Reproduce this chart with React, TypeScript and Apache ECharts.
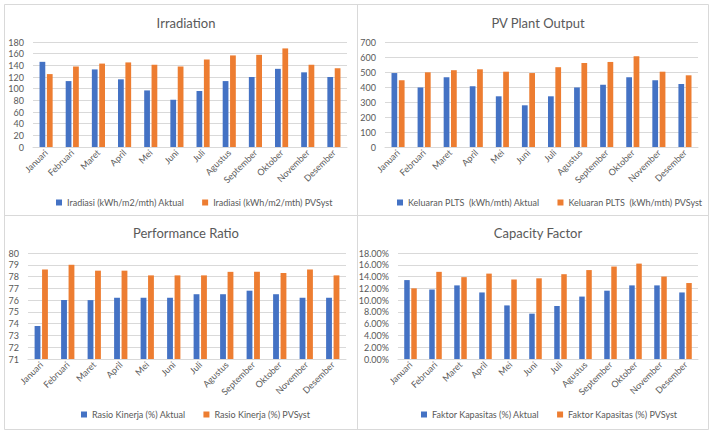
import React, { useEffect, useRef } from "react";
import * as echarts from "echarts";

const months = ["Januari", "Februari", "Maret", "April", "Mei", "Juni", "Juli", "Agustus", "September", "Oktober", "November", "Desember"];

const irrAktual = [146, 113, 133, 116, 97, 81, 96, 113, 120, 134, 128, 120];
const irrPvsyst = [125, 138, 143, 145, 141, 138, 150, 157, 158, 169, 141, 135];

const outAktual = [493, 397, 465, 405, 338, 278, 338, 397, 415, 465, 445, 420];
const outPvsyst = [445, 498, 512, 518, 502, 493, 532, 560, 567, 605, 502, 478];

const prAktual = [73.8, 76.0, 76.0, 76.2, 76.2, 76.2, 76.5, 76.5, 76.8, 76.5, 76.2, 76.2];
const prPvsyst = [78.6, 79.0, 78.5, 78.5, 78.1, 78.1, 78.1, 78.4, 78.4, 78.3, 78.6, 78.1];

const cfAktual = [13.4, 11.8, 12.5, 11.3, 9.1, 7.7, 9.0, 10.6, 11.6, 12.5, 12.5, 11.3];
const cfPvsyst = [12.0, 14.8, 13.9, 14.5, 13.5, 13.7, 14.4, 15.1, 15.7, 16.2, 14.0, 12.9];

const titles = ["Irradiation", "PV Plant Output", "Performance Ratio", "Capacity Factor"];
const seriesNames = [
  ["Iradiasi (kWh/m2/mth) Aktual", "Iradiasi (kWh/m2/mth) PVSyst"],
  ["Keluaran PLTS  (kWh/mth) Aktual", "Keluaran PLTS  (kWh/mth) PVSyst"],
  ["Rasio Kinerja (%) Aktual", "Rasio Kinerja (%) PVSyst"],
  ["Faktor Kapasitas (%) Aktual", "Faktor Kapasitas (%) PVSyst"],
];
const seriesData = [
  [irrAktual, irrPvsyst],
  [outAktual, outPvsyst],
  [prAktual, prPvsyst],
  [cfAktual, cfPvsyst],
];
const axisRanges = [
  { min: 0, max: 180, interval: 20 },
  { min: 0, max: 700, interval: 100 },
  { min: 71, max: 80, interval: 1 },
  { min: 0, max: 18, interval: 2 },
];

const BLUE = "#4472C4";
const ORANGE = "#ED7D31";
const TEXT = "#595959";
const LINE = "#D9D9D9";
const FONT = "Lato, 'Open Sans', sans-serif";

const layout = [
  { grid: { left: 33, right: 367, top: 42, bottom: 287 }, tx: 181, ty: 11, lx: 56, ly: 198 },
  { grid: { left: 385, right: 16, top: 42, bottom: 287 }, tx: 533, ty: 11, lx: 397, ly: 198 },
  { grid: { left: 28, right: 368, top: 253, bottom: 75 }, tx: 181, ty: 221, lx: 81, ly: 410 },
  { grid: { left: 398, right: 16, top: 253, bottom: 75 }, tx: 533, ty: 221, lx: 421, ly: 410 },
];

export default function App() {
  const ref = useRef<HTMLDivElement>(null);
  useEffect(() => {
    const chart = echarts.init(ref.current!, null, { renderer: "svg" });
    const option: any = {
      animation: false,
      backgroundColor: "#fff",
      textStyle: { fontFamily: FONT },
      title: layout.map((l, i) => ({
        text: titles[i],
        left: l.tx,
        top: l.ty,
        textAlign: "center",
        textStyle: { fontSize: 13, fontWeight: "normal", color: TEXT, fontFamily: FONT },
      })),
      legend: layout.map((l, i) => ({
        data: seriesNames[i],
        left: l.lx,
        top: l.ly,
        icon: "rect",
        itemWidth: 6,
        itemHeight: 6,
        itemGap: 18,
        padding: 0,
        textStyle: { fontSize: 9, color: TEXT, fontFamily: FONT },
      })),
      grid: layout.map((l) => ({ ...l.grid, containLabel: false })),
      xAxis: layout.map((_, i) => ({
        type: "category",
        gridIndex: i,
        data: months,
        axisLine: { lineStyle: { color: LINE } },
        axisTick: { show: false },
        axisLabel: { interval: 0, rotate: 45, fontSize: 9, color: TEXT, margin: 4, fontFamily: FONT },
      })),
      yAxis: layout.map((_, i) => ({
        type: "value",
        gridIndex: i,
        min: axisRanges[i].min,
        max: axisRanges[i].max,
        interval: axisRanges[i].interval,
        startValue: axisRanges[i].min,
        axisLine: { show: false },
        axisTick: { show: false },
        splitLine: { lineStyle: { color: LINE } },
        axisLabel: {
          fontSize: 9,
          color: TEXT,
          margin: 9,
          fontFamily: FONT,
          formatter: i === 3 ? (v: number) => v.toFixed(2) + "%" : (v: number) => String(v),
        },
      })),
      series: layout.flatMap((_, i) =>
        [0, 1].map((k) => ({
          type: "bar",
          name: seriesNames[i][k],
          xAxisIndex: i,
          yAxisIndex: i,
          data: seriesData[i][k],
          itemStyle: { color: k === 0 ? BLUE : ORANGE },
          barWidth: "22%",
          barGap: "28%",
          clip: true,
        }))
      ),
      graphic: [
        { type: "rect", shape: { x: 4.5, y: 4.5, width: 704, height: 425 }, style: { fill: "none", stroke: LINE, lineWidth: 1 }, silent: true },
        { type: "line", shape: { x1: 357.5, y1: 4.5, x2: 357.5, y2: 429.5 }, style: { stroke: LINE, lineWidth: 1 }, silent: true },
        { type: "line", shape: { x1: 4.5, y1: 215.5, x2: 708.5, y2: 215.5 }, style: { stroke: LINE, lineWidth: 1 }, silent: true },
      ],
    };
    chart.setOption(option);
    return () => chart.dispose();
  }, []);
  return <div ref={ref} style={{ position: "absolute", left: 0, top: 0, width: 714, height: 434, background: "#fff" }} />;
}
